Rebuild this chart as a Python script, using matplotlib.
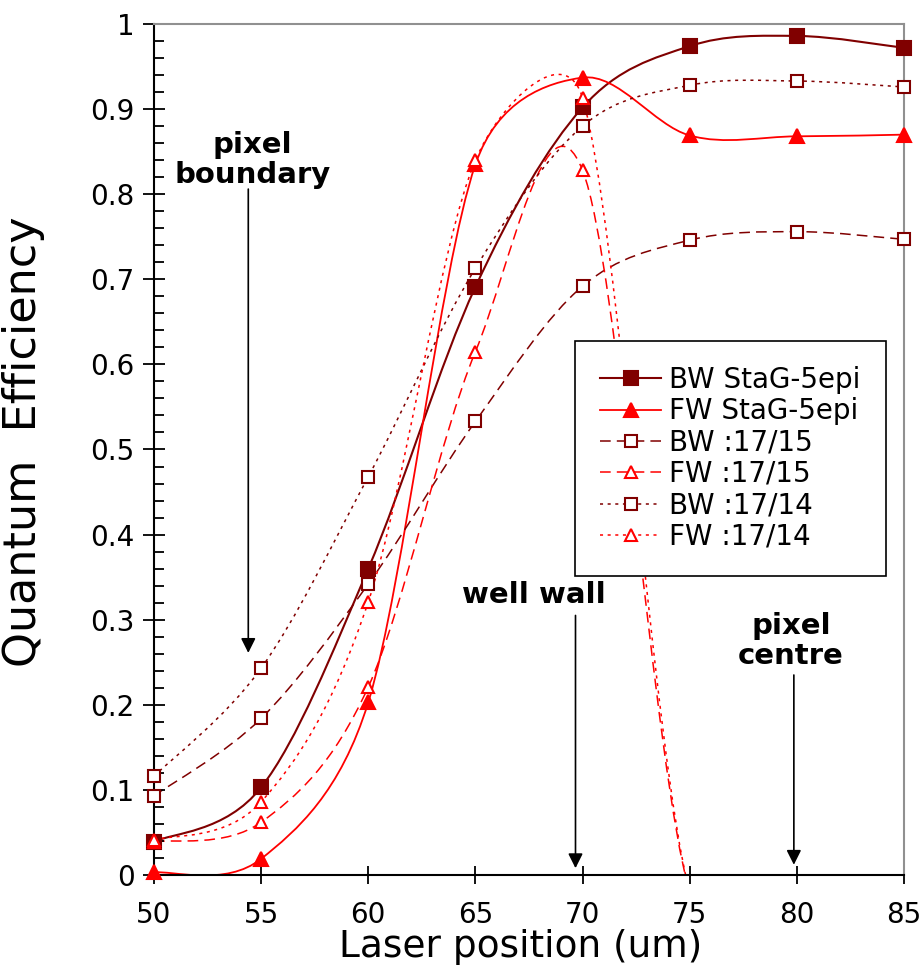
import numpy as np
import matplotlib.pyplot as plt
from matplotlib.path import Path
from matplotlib.patches import PathPatch
from matplotlib.lines import Line2D
from matplotlib.ticker import MultipleLocator, FormatStrFormatter

plt.rcParams['font.family'] = ['DejaVu Sans']

# laser position (um) and quantum efficiency
pos = [50, 55, 60, 65, 70, 75, 80, 85]
bw_stag = [0.039, 0.103, 0.360, 0.691, 0.902, 0.974, 0.986, 0.972]
fw_stag = [0.003, 0.019, 0.203, 0.835, 0.937, 0.869, 0.868, 0.870]
bw_1715 = [0.093, 0.184, 0.342, 0.533, 0.692, 0.746, 0.756, 0.747]
fw_1715 = [0.039, 0.062, 0.221, 0.615, 0.828, -0.02, -0.02, -0.02]
bw_1714 = [0.116, 0.243, 0.468, 0.713, 0.880, 0.928, 0.933, 0.926]
fw_1714 = [0.041, 0.086, 0.321, 0.840, 0.913, -0.02, -0.02, -0.02]
labels = ['BW StaG-5epi', 'FW StaG-5epi', 'BW :17/15', 'FW :17/15', 'BW :17/14', 'FW :17/14']

DARK = '#800000'
RED = '#ff0000'


def smooth_path(ax, x, y):
    # Excel-like smoothed line: cubic bezier segments, built in pixel space
    pts = ax.transData.transform(np.column_stack([x, y]))
    n = len(pts)
    verts = [pts[0]]
    codes = [Path.MOVETO]
    for i in range(n - 1):
        p0 = pts[max(i - 1, 0)]
        p1 = pts[i]
        p2 = pts[i + 1]
        p3 = pts[min(i + 2, n - 1)]
        d02 = np.hypot(*(p2 - p0))
        d12 = np.hypot(*(p2 - p1))
        d13 = np.hypot(*(p3 - p1))
        f1 = f2 = 1 / 6
        if not (d02 / 6 < d12 / 2 and d13 / 6 < d12 / 2):
            if d02 / 6 >= d12 / 2:
                f1 = d12 / d02 / 2
            if d13 / 6 >= d12 / 2:
                f2 = d12 / d13 / 2
        c1 = p1 + (p2 - p0) * f1
        c2 = p2 - (p3 - p1) * f2
        verts += [c1, c2, p2]
        codes += [Path.CURVE4] * 3
    verts = ax.transData.inverted().transform(np.array(verts))
    return Path(verts, codes)


fig = plt.figure(figsize=(9.2, 9.68), dpi=100)
ax = fig.add_axes([154 / 920, 1 - 875 / 968, 750 / 920, 851 / 968])
ax.set_xlim(50, 85)
ax.set_ylim(0, 1)

series = [
    (bw_stag, DARK, '-', 's', True, 1.5),
    (fw_stag, RED, '-', '^', True, 1.3),
    (bw_1715, DARK, (0, (7, 4)), 's', False, 1.1),
    (fw_1715, RED, (0, (7, 4)), '^', False, 1.1),
    (bw_1714, DARK, (0, (2, 3)), 's', False, 1.1),
    (fw_1714, RED, (0, (2, 3)), '^', False, 1.1),
]

handles = []
for (vals, col, ls, mk, filled, lw), lab in zip(series, labels):
    path = smooth_path(ax, pos, vals)
    ax.add_patch(PathPatch(path, facecolor='none', edgecolor=col, lw=lw, linestyle=ls))
    mvals = np.ma.masked_less(np.array(vals), 0)
    ms = 10 if filled else 9
    ax.plot(pos, mvals, ls='none', marker=mk, ms=ms, mec=col,
            mfc=col if filled else 'white', mew=1.5, clip_on=False, zorder=3)
    handles.append(Line2D([], [], color=col, ls=ls, lw=lw, marker=mk, ms=ms, mec=col,
                          mfc=col if filled else 'white', mew=1.5))

# arrows and notes
arr = dict(arrowstyle='-|>', color='black', lw=1.2, mutation_scale=22, shrinkA=0, shrinkB=0)
ax.annotate('', xy=(54.4, 0.261), xytext=(54.4, 0.806), arrowprops=arr)
ax.annotate('', xy=(69.67, 0.008), xytext=(69.67, 0.305), arrowprops=arr)
ax.annotate('', xy=(79.86, 0.012), xytext=(79.86, 0.235), arrowprops=arr)
ax.text(54.58, 0.84, 'pixel\nboundary', ha='center', va='center', fontsize=21,
        fontweight='bold', linespacing=1.1)
ax.text(67.71, 0.329, 'well wall', ha='center', va='center', fontsize=21, fontweight='bold')
ax.text(79.72, 0.275, 'pixel\ncentre', ha='center', va='center', fontsize=21,
        fontweight='bold', linespacing=1.1)

ax.xaxis.set_major_locator(MultipleLocator(5))
ax.yaxis.set_major_locator(MultipleLocator(0.1))
ax.yaxis.set_minor_locator(MultipleLocator(0.02))
ax.yaxis.set_major_formatter(FormatStrFormatter('%g'))
ax.tick_params(axis='both', which='major', direction='inout', length=16, width=1.3,
               labelsize=20, top=False, right=False)
ax.tick_params(axis='y', which='minor', direction='in', length=7, width=1.3)
ax.tick_params(axis='y', which='major', pad=6)
ax.tick_params(axis='x', which='major', length=13, pad=12)

for s in ['left', 'bottom']:
    ax.spines[s].set_linewidth(1.5)
    ax.spines[s].set_color('black')
for s in ['top', 'right']:
    ax.spines[s].set_linewidth(1.5)
    ax.spines[s].set_color('#909090')

ax.set_xlabel('Laser position (um)', fontsize=27)
ax.set_ylabel('Quantum  Efficiency', fontsize=32)
ax.xaxis.set_label_coords(0.489, -0.063)
ax.yaxis.set_label_coords(-0.145, 0.509)

leg = ax.legend(handles, labels, loc='upper left', bbox_to_anchor=(575 / 920, 1 - 341 / 968),
                bbox_transform=fig.transFigure, fontsize=20, handlelength=2.2,
                handletextpad=0.3, borderpad=0.9, labelspacing=0.12, fancybox=False,
                framealpha=1, edgecolor='black', borderaxespad=0)
leg.get_frame().set_linewidth(1.2)

fig.savefig('out.png', dpi=100)
